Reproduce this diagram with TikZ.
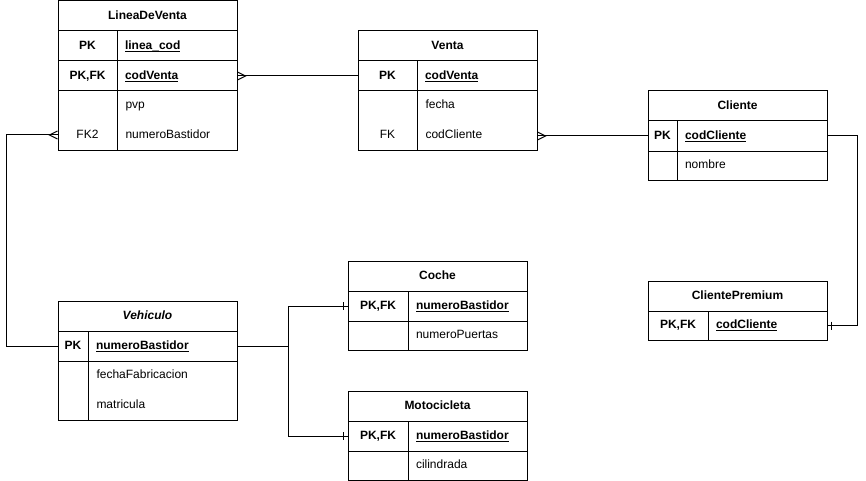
\documentclass[tikz,border=0pt]{standalone}
\usepackage{fontspec}
\setmainfont{Liberation Sans}
\usetikzlibrary{fit,calc}
% underlined key attribute; the smash keeps the rule just under the baseline
\newcommand\keyname[1]{\underline{\smash{#1}}}
\begin{document}
\begin{tikzpicture}[x=0.75pt,y=-0.75pt,
  line width=0.75pt,
  cell/.style={draw=black, inner sep=0pt, fit={#1}},
  txt/.style={inner sep=0pt, font=\fontsize{9}{11}\selectfont, text height=6.5pt, text depth=1.5pt},
  title/.style={txt, font=\fontsize{9}{11}\selectfont\bfseries},
  keytxt/.style={txt, font=\fontsize{9}{11}\selectfont\bfseries},
  attr/.style={txt, anchor=west},
  pkattr/.style={attr, font=\fontsize{9}{11}\selectfont\bfseries},
  link/.style={draw=black, line width=0.75pt},
  crowmany/.pic={\draw[link] (0,-4) -- (8,0) -- (0,4);},
  crowone/.pic={\draw[link] (4,-4) -- (4,4);},
]
\useasboundingbox (0,0) rectangle (866,481);

% ---------- LineaDeVenta ----------
\node[cell={(58,1)(237,31)}] (lv-h) {};
\node[title] (lv-t) at (lv-h) {LineaDeVenta};
\node[cell={(58,31)(117,61)}] (lv-k1) {};
\node[keytxt] (lv-pk) at (lv-k1) {PK};
\node[cell={(117,31)(237,61)}] (lv-v1) {};
\node[pkattr] (lv-n1) at ($(lv-v1.west)+(8,0)$) {\keyname{linea\_cod}};
\node[cell={(58,61)(117,91)}] (lv-k2) {};
\node[keytxt] (lv-pkfk) at (lv-k2) {PK,FK};
\node[cell={(117,61)(237,91)}] (lv-v2) {};
\node[pkattr] (lv-n2) at ($(lv-v2.west)+(8,0)$) {\keyname{codVenta}};
\node[cell={(58,91)(117,150)}] (lv-ka) {};
\node[cell={(117,91)(237,150)}] (lv-va) {};
\node[attr] (lv-pvp) at (125,105) {pvp};
\node[attr] (lv-nb) at (125,135) {numeroBastidor};
\node[txt] (lv-fk2) at (87.5,135) {FK2};

% ---------- Venta ----------
\node[cell={(358,31)(537,61)}] (v-h) {};
\node[title] (v-t) at (v-h) {Venta};
\node[cell={(358,61)(417,91)}] (v-k1) {};
\node[keytxt] (v-pk) at (v-k1) {PK};
\node[cell={(417,61)(537,91)}] (v-v1) {};
\node[pkattr] (v-n1) at ($(v-v1.west)+(8,0)$) {\keyname{codVenta}};
\node[cell={(358,91)(417,150)}] (v-ka) {};
\node[cell={(417,91)(537,150)}] (v-va) {};
\node[attr] (v-fecha) at (425,105) {fecha};
\node[attr] (v-cc) at (425,135) {codCliente};
\node[txt] (v-fk) at (387.5,135) {FK};

% ---------- Cliente ----------
\node[cell={(648,91)(827,121)}] (c-h) {};
\node[title] (c-t) at (c-h) {Cliente};
\node[cell={(648,121)(677,151)}] (c-k1) {};
\node[keytxt] (c-pk) at (c-k1) {PK};
\node[cell={(677,121)(827,151)}] (c-v1) {};
\node[pkattr] (c-n1) at ($(c-v1.west)+(8,0)$) {\keyname{codCliente}};
\node[cell={(648,151)(677,180)}] (c-k2) {};
\node[cell={(677,151)(827,180)}] (c-v2) {};
\node[attr] (c-n2) at ($(c-v2.west)+(8,0)$) {nombre};

% ---------- ClientePremium ----------
\node[cell={(648,281)(827,311)}] (cp-h) {};
\node[title] (cp-t) at (cp-h) {ClientePremium};
\node[cell={(648,311)(708,340)}] (cp-k1) {};
\node[keytxt] (cp-pkfk) at (cp-k1) {PK,FK};
\node[cell={(708,311)(827,340)}] (cp-v1) {};
\node[pkattr] (cp-n1) at ($(cp-v1.west)+(8,0)$) {\keyname{codCliente}};

% ---------- Vehiculo ----------
\node[cell={(58,301)(237,331)}] (vh-h) {};
\node[title, font=\fontsize{9}{11}\selectfont\bfseries\itshape] (vh-t) at (vh-h) {Vehiculo};
\node[cell={(58,331)(88,361)}] (vh-k1) {};
\node[keytxt] (vh-pk) at (vh-k1) {PK};
\node[cell={(88,331)(237,361)}] (vh-v1) {};
\node[pkattr] (vh-n1) at ($(vh-v1.west)+(8,0)$) {\keyname{numeroBastidor}};
\node[cell={(58,361)(88,420)}] (vh-ka) {};
\node[cell={(88,361)(237,420)}] (vh-va) {};
\node[attr] (vh-ff) at (96,375) {fechaFabricacion};
\node[attr] (vh-mat) at (96,405) {matricula};

% ---------- Coche ----------
\node[cell={(348,261)(527,291)}] (co-h) {};
\node[title] (co-t) at (co-h) {Coche};
\node[cell={(348,291)(408,321)}] (co-k1) {};
\node[keytxt] (co-pkfk) at (co-k1) {PK,FK};
\node[cell={(408,291)(527,321)}] (co-v1) {};
\node[pkattr] (co-n1) at ($(co-v1.west)+(8,0)$) {\keyname{numeroBastidor}};
\node[cell={(348,321)(408,350)}] (co-k2) {};
\node[cell={(408,321)(527,350)}] (co-v2) {};
\node[attr] (co-n2) at ($(co-v2.west)+(8,0)$) {numeroPuertas};

% ---------- Motocicleta ----------
\node[cell={(348,391)(527,421)}] (mo-h) {};
\node[title] (mo-t) at (mo-h) {Motocicleta};
\node[cell={(348,421)(408,451)}] (mo-k1) {};
\node[keytxt] (mo-pkfk) at (mo-k1) {PK,FK};
\node[cell={(408,421)(527,451)}] (mo-v1) {};
\node[pkattr] (mo-n1) at ($(mo-v1.west)+(8,0)$) {\keyname{numeroBastidor}};
\node[cell={(348,451)(408,480)}] (mo-k2) {};
\node[cell={(408,451)(527,480)}] (mo-v2) {};
\node[attr] (mo-n2) at ($(mo-v2.west)+(8,0)$) {cilindrada};

% ---------- relationships ----------
% LineaDeVenta.codVenta >-- Venta.codVenta
\draw[link] (lv-v2.east) -- (v-k1.west);
\pic at (lv-v2.east) {crowmany};

% Venta.codCliente >-- Cliente.codCliente
\draw[link] (v-va.east |- c-k1.west) -- (c-k1.west);
\pic at (v-va.east |- c-k1.west) {crowmany};

% LineaDeVenta.numeroBastidor >-- Vehiculo.numeroBastidor
\draw[link] (lv-ka.west |- lv-fk2) -- ++(-51,0) |- (vh-k1.west);
\pic[xscale=-1] at (lv-ka.west |- lv-fk2) {crowmany};

% Vehiculo specialisations
\draw[link] (vh-v1.east) -- ++(51,0) coordinate (split) |- (co-k1.west);
\draw[link] (split) |- (mo-k1.west);
\pic[xscale=-1] at (co-k1.west) {crowone};
\pic[xscale=-1] at (mo-k1.west) {crowone};

% Cliente --| ClientePremium
\draw[link] (c-v1.east) -- ++(30,0) |- (cp-v1.east);
\pic at (cp-v1.east) {crowone};
\end{tikzpicture}
\end{document}
